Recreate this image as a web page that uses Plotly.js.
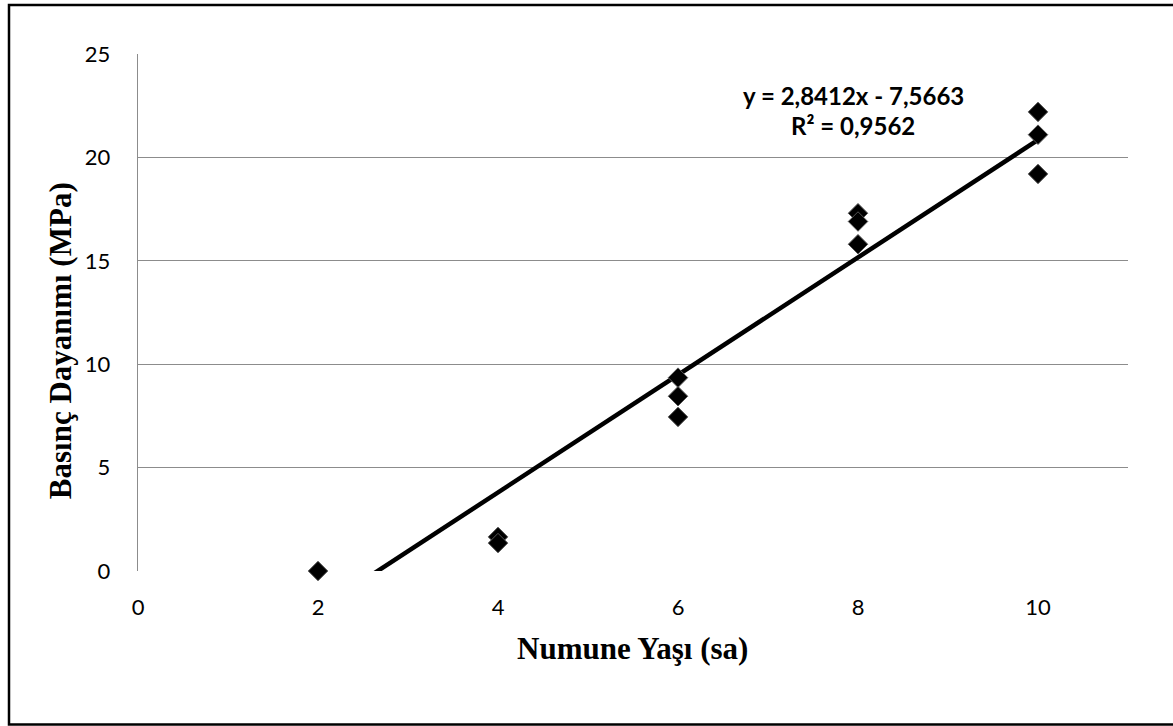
<!DOCTYPE html>
<html>
<head>
<meta charset="utf-8">
<script src="https://cdn.plot.ly/plotly-3.0.1.min.js"></script>
<style>
  html, body { margin: 0; padding: 0; background: #fff; }
  #chart { width: 1173px; height: 726px; }
</style>
</head>
<body>
<div id="chart"></div>
<script>
// Data
const ageHours = [2, 4, 4, 6, 6, 6, 8, 8, 8, 10, 10, 10];
const strengthMPa = [0.0, 1.65, 1.35, 9.35, 8.45, 7.45, 17.3, 16.9, 15.8, 22.2, 21.1, 19.2];

// Linear trendline as printed on the chart
const trendSlope = 2.8412;
const trendIntercept = -7.5663;
const trendX = [2, 10];
const trendY = trendX.map(x => trendSlope * x + trendIntercept);

const xTicks = [0, 2, 4, 6, 8, 10];
const yTicks = [0, 5, 10, 15, 20, 25];
const equationText = "y = 2,8412x - 7,5663";
const r2Text = "R² = 0,9562";

const tickFont = { family: "Lato, 'Open Sans', sans-serif", size: 22, color: "#000" };
const titleFont = { family: "'Liberation Serif', 'Times New Roman', serif", size: 31, color: "#000", weight: "bold" };
const eqFont = { family: "Lato, 'Open Sans', sans-serif", size: 24, color: "#000", weight: "bold" };

const data = [
  {
    x: trendX, y: trendY, type: "scatter", mode: "lines",
    line: { color: "#000", width: 4.5 }, hoverinfo: "skip", showlegend: false
  },
  {
    x: ageHours, y: strengthMPa, type: "scatter", mode: "markers",
    marker: { symbol: "diamond", size: 15, color: "#000", line: { color: "#555", width: 1 } },
    showlegend: false, cliponaxis: false
  }
];

const layout = {
  width: 1173, height: 726,
  margin: { l: 138, r: 45, t: 54, b: 155 },
  paper_bgcolor: "#fff", plot_bgcolor: "#fff",
  showlegend: false,
  xaxis: {
    range: [0, 11], tickvals: xTicks, ticktext: xTicks.map(String),
    showgrid: false, zeroline: false, showline: false,
    ticks: "outside", ticklen: 17, tickcolor: "rgba(0,0,0,0)",
    tickfont: tickFont
  },
  yaxis: {
    range: [0, 25], tickvals: yTicks, ticktext: yTicks.map(String),
    showgrid: true, gridcolor: "#8c8c8c", gridwidth: 1.3,
    zeroline: false, showline: true, linecolor: "#8c8c8c", linewidth: 1.3,
    ticks: "outside", ticklen: 22, tickcolor: "rgba(0,0,0,0)",
    tickfont: tickFont
  },
  annotations: [
    { xref: "paper", yref: "paper", x: (632.5 - 138) / 990, y: (570.7 - 648) / 516.7,
      text: "Numune Yaşı (sa)", showarrow: false, font: titleFont,
      xanchor: "center", yanchor: "middle" },
    { xref: "paper", yref: "paper", x: (60 - 138) / 990, y: (570.7 - 341) / 516.7,
      text: "Basınç Dayanımı (MPa)", showarrow: false, font: titleFont, textangle: -90,
      xanchor: "center", yanchor: "middle" },
    { xref: "paper", yref: "paper", x: (853 - 138) / 990, y: (570.7 - 95) / 516.7,
      text: equationText, showarrow: false, font: eqFont,
      xanchor: "center", yanchor: "middle" },
    { xref: "paper", yref: "paper", x: (853 - 138) / 990, y: (570.7 - 125) / 516.7,
      text: r2Text, showarrow: false, font: eqFont,
      xanchor: "center", yanchor: "middle" }
  ],
  shapes: [
    { type: "rect", xref: "paper", yref: "paper",
      x0: (9 - 138) / 990, x1: (1180 - 138) / 990,
      y0: (570.7 - 724) / 516.7, y1: (570.7 - 5) / 516.7,
      line: { color: "#000", width: 2.5 }, fillcolor: "rgba(0,0,0,0)", layer: "below" }
  ]
};

Plotly.newPlot("chart", data, layout, { displayModeBar: false, staticPlot: true });
</script>
</body>
</html>
